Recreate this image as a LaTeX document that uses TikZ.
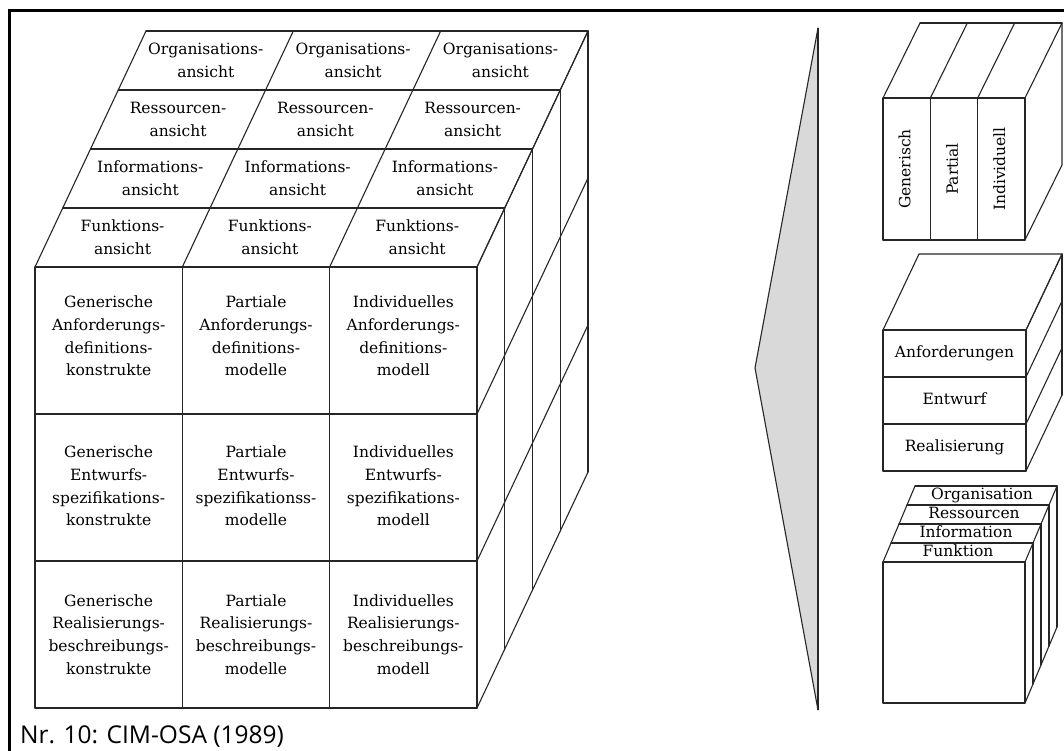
\documentclass[tikz,border=0pt]{standalone}
\usepackage{fontspec}
\setmainfont{DejaVu Serif}
\newfontfamily\capfont{Open Sans}
\begin{document}
\begin{tikzpicture}[x=1pt,y=-1pt,
  edge/.style={line width=1.1pt, draw=black!85, line join=round, line cap=round},
  lbl/.style={align=center, inner sep=0pt, font=\fontsize{15.5}{22.7}\selectfont},
  tag/.style={inner sep=0pt, font=\fontsize{15.5}{22}\selectfont, text height=11pt, text depth=3.5pt},
  frame/.style={line width=3pt}]

\useasboundingbox (0,0) rectangle (1064,751);
\draw[frame] (9,751) -- (9,11) -- (1064,11);

% ---------- large cube: front face (levels x genericity) ----------
\begin{scope}[shift={(35,267)}, x={(147.33pt,0pt)}, y={(0pt,-147pt)}]
  \foreach \i in {0,...,3} {
    \draw[edge] (\i,0) -- (\i,3);
    \draw[edge] (0,\i) -- (3,\i);
  }
  \node[lbl] (a1) at (0.5,0.47) {Generische\\Anforderungs-\\definitions-\\konstrukte};
  \node[lbl] (a2) at (1.5,0.47) {Partiale\\Anforderungs-\\definitions-\\modelle};
  \node[lbl] (a3) at (2.5,0.47) {Individuelles\\Anforderungs-\\definitions-\\modell};
  \node[lbl] (e1) at (0.5,1.49) {Generische\\Entwurfs-\\spezifikations-\\konstrukte};
  \node[lbl] (e2) at (1.5,1.49) {Partiale\\Entwurfs-\\spezifikationss-\\modelle};
  \node[lbl] (e3) at (2.5,1.49) {Individuelles\\Entwurfs-\\spezifikations-\\modell};
  \node[lbl] (r1) at (0.5,2.5) {Generische\\Realisierungs-\\beschreibungs-\\konstrukte};
  \node[lbl] (r2) at (1.5,2.5) {Partiale\\Realisierungs-\\beschreibungs-\\modelle};
  \node[lbl] (r3) at (2.5,2.5) {Individuelles\\Realisierungs-\\beschreibungs-\\modell};
\end{scope}

% ---------- large cube: top face (views) ----------
\begin{scope}[shift={(35,267)}, x={(147.33pt,0pt)}, y={(27.75pt,59pt)}]
  \foreach \i in {0,...,3} \draw[edge] (\i,0) -- (\i,4);
  \foreach \j in {1,...,4} \draw[edge] (0,\j) -- (3,\j);
  \foreach \name/\d in {Funktions/0, Informations/1, Ressourcen/2, Organisations/3}
    \foreach \u in {0,1,2}
      \node[lbl] (\name-\u) at (\u+0.5,\d+0.5) {\name-\\ansicht};
\end{scope}

% ---------- large cube: right face ----------
\begin{scope}[shift={(477,267)}, x={(27.75pt,59pt)}, y={(0pt,-147pt)}]
  \foreach \j in {1,...,4} \draw[edge] (\j,0) -- (\j,3);
  \foreach \k in {0,...,3} \draw[edge] (0,\k) -- (4,\k);
\end{scope}

% ---------- wedge ----------
\draw[edge, fill=gray!30] (818,28) -- (755,368) -- (818,710);
\draw[line width=1.6pt, black!85] (818,28) -- (818,710);

% ---------- small cube: genericity ----------
\begin{scope}[shift={(883,98)}, x={(47.33pt,0pt)}, y={(0pt,-142pt)}]
  \foreach \i in {0,...,3} \draw[edge] (\i,0) -- (\i,1);
  \draw[edge] (0,0) -- (3,0) (0,1) -- (3,1);
  \node[tag, rotate=90] (gen) at (0.5,0.5) {Generisch};
  \node[tag, rotate=90] (par) at (1.5,0.5) {Partial};
  \node[tag, rotate=90] (ind) at (2.5,0.5) {Individuell};
\end{scope}
\begin{scope}[shift={(883,98)}, x={(47.33pt,0pt)}, y={(37pt,75pt)}]
  \foreach \i in {0,...,3} \draw[edge] (\i,0) -- (\i,1);
  \draw[edge] (0,1) -- (3,1);
\end{scope}
\begin{scope}[shift={(1025,98)}, x={(37pt,75pt)}, y={(0pt,-142pt)}]
  \draw[edge] (1,0) -- (1,1) (0,1) -- (1,1);
\end{scope}

% ---------- small cube: life-cycle levels ----------
\begin{scope}[shift={(883,330)}, x={(143pt,0pt)}, y={(0pt,-47pt)}]
  \draw[edge] (0,0) -- (0,3) (1,0) -- (1,3);
  \foreach \k in {0,...,3} \draw[edge] (0,\k) -- (1,\k);
  \node[tag] (anf) at (0.5,0.5) {Anforderungen};
  \node[tag] (ent) at (0.5,1.5) {Entwurf};
  \node[tag] (rea) at (0.5,2.5) {Realisierung};
\end{scope}
\begin{scope}[shift={(883,330)}, x={(143pt,0pt)}, y={(36pt,76pt)}]
  \draw[edge] (0,0) -- (0,1) -- (1,1) -- (1,0);
\end{scope}
\begin{scope}[shift={(1026,330)}, x={(36pt,76pt)}, y={(0pt,-47pt)}]
  \draw[edge] (1,0) -- (1,3);
  \foreach \k in {0,...,3} \draw[edge] (0,\k) -- (1,\k);
\end{scope}

% ---------- small cube: views ----------
\begin{scope}[shift={(883,562)}, x={(142pt,0pt)}, y={(0pt,-141pt)}]
  \draw[edge] (0,0) -- (1,0) -- (1,1) -- (0,1) -- cycle;
\end{scope}
\begin{scope}[shift={(883,562)}, x={(142pt,0pt)}, y={(8pt,19pt)}]
  \draw[edge] (0,0) -- (0,4) (1,0) -- (1,4);
  \foreach \j in {1,...,4} \draw[edge] (0,\j) -- (1,\j);
  \node[tag] (vfun) at (0.5,0.5) {Funktion};
  \node[tag] (vinf) at (0.5,1.5) {Information};
  \node[tag] (vres) at (0.5,2.5) {Ressourcen};
  \node[tag] (vorg) at (0.5,3.5) {Organisation};
\end{scope}
\begin{scope}[shift={(1025,562)}, x={(8pt,19pt)}, y={(0pt,-141pt)}]
  \foreach \j in {1,...,4} \draw[edge] (\j,0) -- (\j,1);
  \draw[edge] (0,1) -- (4,1);
\end{scope}

% ---------- caption ----------
\node[anchor=base west, inner sep=0pt, font=\capfont\fontsize{24.5}{28}\selectfont]
  (caption) at (20,743) {Nr. 10: CIM-OSA (1989)};
\end{tikzpicture}
\end{document}
